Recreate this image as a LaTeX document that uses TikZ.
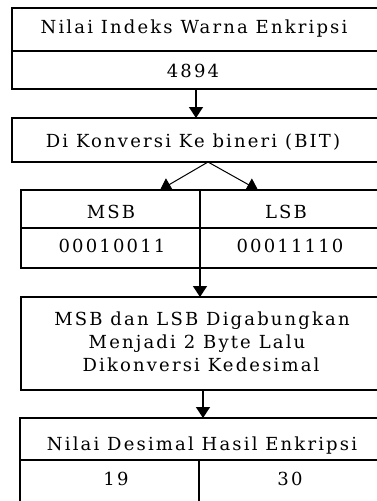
\documentclass[tikz,border=0pt]{standalone}
\usepackage{fontspec}
\setmainfont{DejaVu Serif}[LetterSpace=12]
\usetikzlibrary{arrows.meta}

\begin{document}
\begin{tikzpicture}[x=1pt,y=-1pt,
    box/.style={draw, line width=1.4pt},
    lbl/.style={anchor=base, inner sep=0pt, font=\fontsize{18}{23}\selectfont},
    flow/.style={line width=1.4pt, -{Triangle[width=14pt,length=11pt]}}]
    \useasboundingbox (0,0) rectangle (377,501);
    \clip (0,0) rectangle (377,501);
    % right edge lies beyond the page
    \def\xr{392}
    % nilai indeks warna
    \draw[box] (12,8) rectangle (\xr,89);
    \draw[box] (12,51) -- (\xr,51);
    \node[lbl] (indeks) at (194,33) {Nilai Indeks Warna Enkripsi};
    \node[lbl] (nilai) at (193,77) {4894};
    \coordinate (A) at (196,89);
    % konversi ke biner
    \draw[box] (12,118) rectangle (\xr,162);
    \node[lbl] (konversi) at (193,147) {Di Konversi Ke bineri (BIT)};
    \coordinate (B) at (196,118);
    \coordinate (BS) at (208,162);
    \draw[flow] (A) -- (B);
    % msb and lsb
    \def\xm{200}
    \draw[box] (21,190) rectangle (\xr,268);
    \draw[box] (21,228) -- (\xr,228);
    \draw[box] (\xm,190) -- (\xm,268);
    \node[lbl] (msb) at (111,218) {MSB};
    \node[lbl] (lsb) at (286,218) {LSB};
    \node[lbl] (msbbit) at (112,252) {00010011};
    \node[lbl] (lsbbit) at (290,252) {00011110};
    \coordinate (CL) at (160,190);
    \coordinate (CR) at (258,190);
    \draw[flow, line width=1pt] (BS) -- (CL);
    \draw[flow, line width=1pt] (BS) -- (CR);
    \coordinate (C) at (\xm,268);
    % gabung jadi 2 byte
    \draw[box] (21,297) rectangle (\xr,390);
    \node[lbl] (gab) at (202,325) {MSB dan LSB Digabungkan};
    \node[lbl] (byte) at (197,348) {Menjadi 2 Byte Lalu};
    \node[lbl] (desimal) at (201,371) {Dikonversi Kedesimal};
    \coordinate (D) at (\xm,297);
    \draw[flow] (C) -- (D);
    \coordinate (DS) at (203,390);
    % hasil desimal
    \draw[box] (20,418) rectangle (\xr,520);
    \draw[box] (20,460) -- (\xr,460);
    \draw[box] (199,460) -- (199,520);
    \node[lbl] (hasil) at (202,450) {Nilai Desimal Hasil Enkripsi};
    \node[lbl] (msbdes) at (116,485) {19};
    \node[lbl] (lsbdes) at (290,485) {30};
    \coordinate (E) at (203,418);
    \draw[flow] (DS) -- (E);
\end{tikzpicture}
\end{document}
